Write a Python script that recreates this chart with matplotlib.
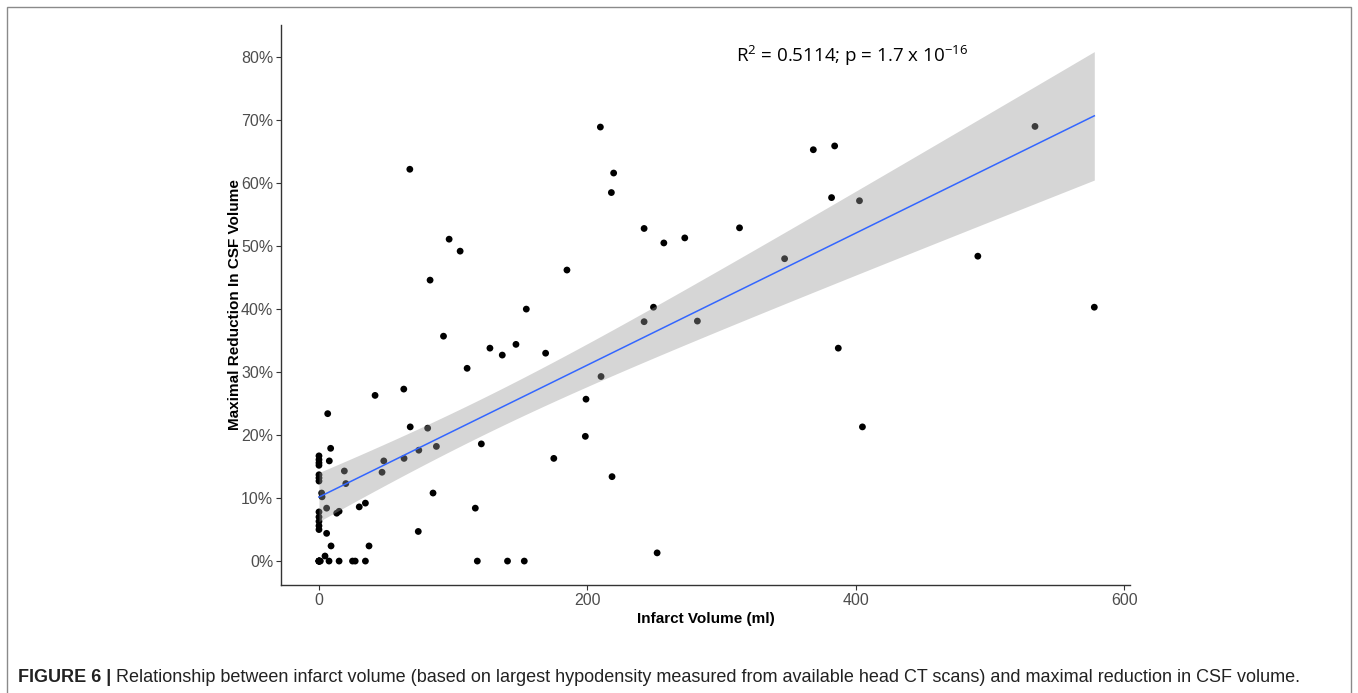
import numpy as np
import matplotlib
matplotlib.use("Agg")
import matplotlib.pyplot as plt
from matplotlib.patches import Rectangle
from matplotlib.ticker import FuncFormatter

plt.rcParams["mathtext.fontset"] = "custom"
plt.rcParams["mathtext.rm"] = "Open Sans"

# infarct volume (ml) and maximal reduction in CSF volume (%)
infarct_ml = [
    0, 0, 0, 0, 0, 0, 0, 2, 2.3, 0, 0, 0, 0, 0, 0, 1, 0, 0, 0, 0, 0.5,
    6.5, 8.7, 7.7, 18.9, 20, 5.7, 13.2, 15, 5.7, 9, 4.5, 7.5, 15, 25, 27, 34.6,
    30, 34.6, 37.3, 41.8, 48.3, 47, 68, 63.4, 74.4, 81, 87.5, 85, 74, 63.2,
    67.7, 82.8, 97, 105.2, 92.8, 110.4, 116.5, 118, 121, 127.4, 136.6, 146.8,
    140.5, 153, 154.5, 168.9, 175, 184.8, 198.5, 199, 209.7, 210.2, 217.9,
    218.4, 219.6, 242.3, 242.3, 249.3, 252, 257, 272.6, 282, 313.4, 347,
    368.4, 382, 384.3, 387, 402.8, 405, 491, 533.6, 577.8,
]
csf_reduction = [
    16.7, 16.1, 15.6, 15.2, 13.7, 13.2, 12.7, 10.8, 10.2, 7.8, 7.0, 6.3, 5.6, 5.0, 0, 0, 0, 0, 0, 0, 0,
    23.4, 17.9, 15.9, 14.3, 12.3, 8.4, 7.6, 7.9, 4.4, 2.4, 0.8, 0, 0, 0, 0, 0,
    8.6, 9.2, 2.4, 26.3, 15.9, 14.1, 21.3, 16.3, 17.6, 21.1, 18.2, 10.8, 4.7, 27.3,
    62.2, 44.6, 51.1, 49.2, 35.7, 30.6, 8.4, 0, 18.6, 33.8, 32.7, 34.4,
    0, 0, 40.0, 33.0, 16.3, 46.2, 19.8, 25.7, 68.9, 29.3, 58.5,
    13.4, 61.6, 52.8, 38.0, 40.3, 1.3, 50.5, 51.3, 38.1, 52.9, 48.0,
    65.3, 57.7, 65.9, 33.8, 57.2, 21.3, 48.4, 69.0, 40.3,
]
x_ticks = [0, 200, 400, 600]
y_ticks = [0, 10, 20, 30, 40, 50, 60, 70, 80]

x = np.array(infarct_ml, dtype=float)
y = np.array(csf_reduction, dtype=float)

# least squares line with 95% confidence band (like geom_smooth(method="lm"))
n = len(x)
slope, intercept = np.polyfit(x, y, 1)
resid = y - (intercept + slope * x)
s = np.sqrt(np.sum(resid ** 2) / (n - 2))
x_fit = np.linspace(x.min(), x.max(), 80)
y_fit = intercept + slope * x_fit
t_crit = 1.986
se_fit = s * np.sqrt(1.0 / n + (x_fit - x.mean()) ** 2 / np.sum((x - x.mean()) ** 2))

fig = plt.figure(figsize=(13.58, 6.93), dpi=100)
W, H = 1358, 693

# thin frame round the figure panel
fig.patches.append(Rectangle((7 / W, -0.05), 1344 / W, 1 - 7 / H + 0.05,
                             transform=fig.transFigure, fill=False,
                             edgecolor="#8a8a8a", linewidth=1.0))

ax = fig.add_axes([281 / W, 1 - 585 / H, 849 / W, 560 / H])
ax.scatter(x, y, s=24, color="black", edgecolors="none", zorder=2)
ax.fill_between(x_fit, y_fit - t_crit * se_fit, y_fit + t_crit * se_fit,
                color="#999999", alpha=0.4, linewidth=0, zorder=3)
ax.plot(x_fit, y_fit, color="#3366FF", linewidth=1.1, zorder=4)

ax.set_xlim(-28.3, 604.4)
ax.set_ylim(-3.8, 85.1)
ax.set_xticks(x_ticks)
ax.set_yticks(y_ticks)
ax.yaxis.set_major_formatter(FuncFormatter(lambda v, p: "%d%%" % v))

for side in ["top", "right"]:
    ax.spines[side].set_visible(False)
for side in ["left", "bottom"]:
    ax.spines[side].set_color("#333333")
    ax.spines[side].set_linewidth(1.0)
ax.tick_params(length=3.5, width=0.8, color="#333333", labelcolor="#4D4D4D",
               labelsize=11.5, pad=2)
for lab in ax.get_xticklabels() + ax.get_yticklabels():
    lab.set_family("Liberation Sans")

ax.set_xlabel("Infarct Volume (ml)", family="Liberation Sans", fontweight="bold",
              fontsize=11, labelpad=3)
ax.set_ylabel("Maximal Reduction In CSF Volume", family="Liberation Sans",
              fontweight="bold", fontsize=11, labelpad=-1)

ax.text(310.8, 80.3, r"R$^2$ = 0.5114; p = 1.7 x 10$^{-16}$", transform=ax.transData,
        family="Open Sans", fontsize=13.5, va="center", ha="left")

# caption
cap_y = 1 - 677 / H
bold = fig.text(18 / W, cap_y, "FIGURE 6 |", family="Liberation Sans",
                fontweight="bold", fontsize=13, va="center", color="#222222")
fig.canvas.draw()
bb = bold.get_window_extent()
fig.text((bb.x1 + 5) / W, cap_y,
         "Relationship between infarct volume (based on largest hypodensity measured "
         "from available head CT scans) and maximal reduction in CSF volume.",
         family="Liberation Sans", fontsize=13, va="center", color="#222222")

fig.savefig("out.png", dpi=100)
